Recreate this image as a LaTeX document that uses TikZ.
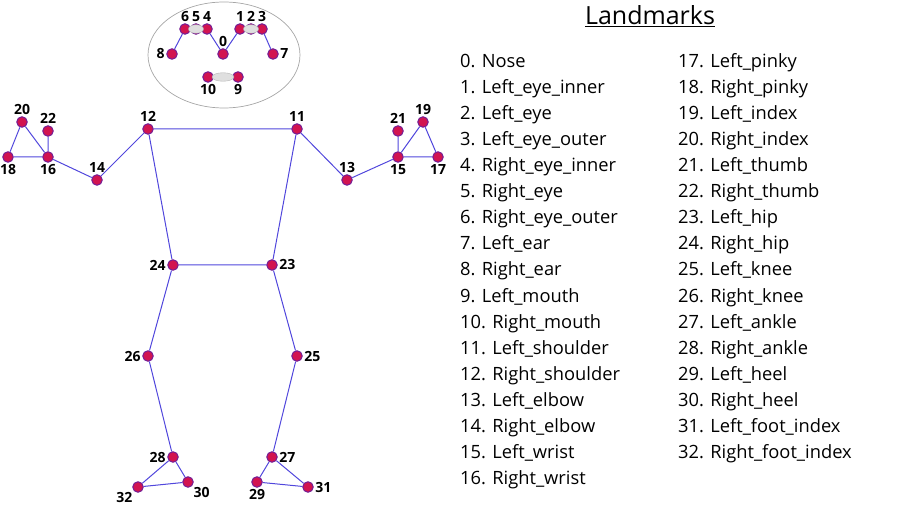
\documentclass[tikz,border=0pt]{standalone}
\usepackage{fontspec}
\setmainfont{Open Sans}
\usetikzlibrary{positioning,shapes.geometric,calc,backgrounds}
\definecolor{bonecol}{RGB}{80,70,220}
\definecolor{jointfill}{RGB}{210,20,80}
\definecolor{jointdraw}{RGB}{115,30,150}
\tikzset{
lm/.style = {circle, draw=jointdraw, fill=jointfill, line width=1pt, inner sep=0pt, minimum size=10.5pt},
lbl/.style = {font=\fontsize{14}{14}\selectfont\bfseries, inner sep=1pt},
bone/.style = {draw=bonecol, line width=1pt},
eye/.style = {draw=gray!60, fill=gray!25, ellipse, inner sep=0pt},
item/.style = {anchor=base west, inner sep=0pt, font=\fontsize{18.3}{18.3}\selectfont}
}

\begin{document}
\begin{tikzpicture}[x=1pt, y=-1pt, label distance=0.5pt]
	\useasboundingbox (0,0) rectangle (900,505);

	% head
	\node[ellipse, draw=gray!70, line width=0.7pt, minimum width=152pt, minimum height=106pt] (head) at (224,55) {};

	% landmarks
	\node[lm, label={[lbl]above:0}] (n0) at (223,54) {};
	\node[lm, label={[lbl]above:1}] (n1) at (240,29) {};
	\node[lm, label={[lbl]above:2}] (n2) at (251,29) {};
	\node[lm, label={[lbl]above:3}] (n3) at (262,29) {};
	\node[lm, label={[lbl]above:4}] (n4) at (207,29) {};
	\node[lm, label={[lbl]above:5}] (n5) at (196,29) {};
	\node[lm, label={[lbl]above:6}] (n6) at (185,29) {};
	\node[lm, label={[lbl]right:7}] (n7) at (273,54) {};
	\node[lm, label={[lbl]left:8}] (n8) at (172,54) {};
	\node[lm, label={[lbl]below:9}] (n9) at (238,77) {};
	\node[lm, label={[lbl]below:10}] (n10) at (208,77) {};
	\node[lm, label={[lbl]above:11}] (n11) at (297,129) {};
	\node[lm, label={[lbl]above:12}] (n12) at (148,129) {};
	\node[lm, label={[lbl]above:13}] (n13) at (347,180) {};
	\node[lm, label={[lbl]above:14}] (n14) at (97,180) {};
	\node[lm, label={[lbl]below:15}] (n15) at (398,157) {};
	\node[lm, label={[lbl]below:16}] (n16) at (48,157) {};
	\node[lm, label={[lbl]below:17}] (n17) at (438,157) {};
	\node[lm, label={[lbl]below:18}] (n18) at (8,157) {};
	\node[lm, label={[lbl]above:19}] (n19) at (423,122) {};
	\node[lm, label={[lbl]above:20}] (n20) at (22,122) {};
	\node[lm, label={[lbl]above:21}] (n21) at (398,131) {};
	\node[lm, label={[lbl]above:22}] (n22) at (48,131) {};
	\node[lm, label={[lbl]right:23}] (n23) at (272,265) {};
	\node[lm, label={[lbl]left:24}] (n24) at (173,265) {};
	\node[lm, label={[lbl]right:25}] (n25) at (297,356) {};
	\node[lm, label={[lbl]left:26}] (n26) at (148,356) {};
	\node[lm, label={[lbl]right:27}] (n27) at (272,457) {};
	\node[lm, label={[lbl]left:28}] (n28) at (173,457) {};
	\node[lm, label={[lbl]below:29}] (n29) at (257,482) {};
	\node[lm, label={[lbl]below right:30}] (n30) at (188,482) {};
	\node[lm, label={[lbl]right:31}] (n31) at (308,487) {};
	\node[lm, label={[lbl]below left:32}] (n32) at (138,487) {};

	% eyes and mouth
	\node[eye, minimum width=15pt, minimum height=8.5pt] (leye) at (n5) {};
	\node[eye, minimum width=15pt, minimum height=8.5pt] (reye) at (n2) {};
	\node[eye, minimum width=22pt, minimum height=8.5pt] (mouth) at ($(n10)!0.5!(n9)$) {};

	% skeleton
	\begin{scope}[on background layer]
	\draw[bone] (n8) -- (n6) (n4) -- (n0) -- (n1) (n3) -- (n7);
	\draw[bone] (n12) -- (n11) -- (n23) -- (n24) -- (n12);
	\draw[bone] (n12) -- (n14) -- (n16) -- (n18) -- (n20) -- (n16) -- (n22);
	\draw[bone] (n11) -- (n13) -- (n15) -- (n17) -- (n19) -- (n15) -- (n21);
	\draw[bone] (n24) -- (n26) -- (n28) -- (n32) -- (n30) -- (n28);
	\draw[bone] (n23) -- (n25) -- (n27) -- (n29) -- (n31) -- (n27);
	\end{scope}

	% list
	\node[font=\fontsize{25}{25}\selectfont, anchor=base, inner sep=0pt] (title) at (650,25) {\underline{Landmarks}};
	\foreach \i/\nm in {0/Nose, 1/Left\_eye\_inner, 2/Left\_eye, 3/Left\_eye\_outer, 4/Right\_eye\_inner, 5/Right\_eye, 6/Right\_eye\_outer, 7/Left\_ear, 8/Right\_ear, 9/Left\_mouth, 10/Right\_mouth, 11/Left\_shoulder, 12/Right\_shoulder, 13/Left\_elbow, 14/Right\_elbow, 15/Left\_wrist, 16/Right\_wrist}
		\node[item] (item\i) at (460,68+26*\i) {\i. \nm};
	\foreach \i/\nm in {17/Left\_pinky, 18/Right\_pinky, 19/Left\_index, 20/Right\_index, 21/Left\_thumb, 22/Right\_thumb, 23/Left\_hip, 24/Right\_hip, 25/Left\_knee, 26/Right\_knee, 27/Left\_ankle, 28/Right\_ankle, 29/Left\_heel, 30/Right\_heel, 31/Left\_foot\_index, 32/Right\_foot\_index}
		\node[item] (item\i) at (678,68+26*\i-442) {\i. \nm};

\end{tikzpicture}
\end{document}
